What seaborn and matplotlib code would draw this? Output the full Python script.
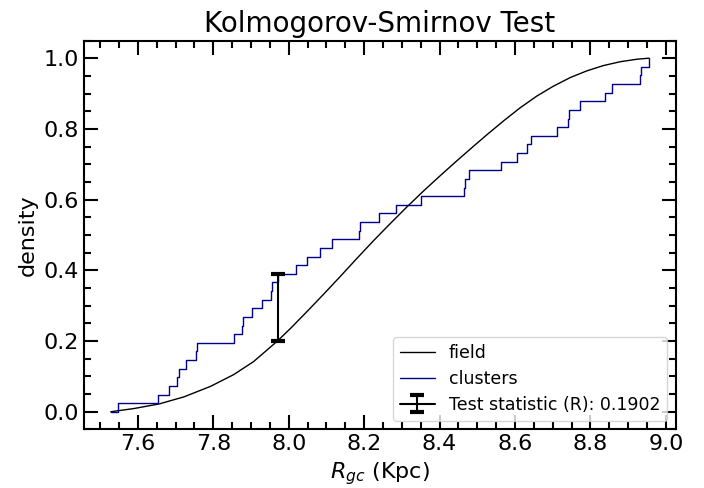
import numpy as np
import pandas as pd
import matplotlib
matplotlib.use("Agg")
import matplotlib.pyplot as plt
import seaborn as sns
from matplotlib.ticker import MultipleLocator

# field CDF
field_r = [7.528, 7.589, 7.656, 7.722, 7.793, 7.854, 7.907, 7.969, 8.005, 8.049,
           8.093, 8.137, 8.181, 8.225, 8.269, 8.314, 8.358, 8.402, 8.446, 8.490,
           8.526, 8.570, 8.614, 8.658, 8.702, 8.746, 8.790, 8.834, 8.879, 8.923, 8.955]
field_cdf = [0.000, 0.009, 0.022, 0.042, 0.072, 0.105, 0.142, 0.199, 0.236, 0.284,
             0.333, 0.383, 0.434, 0.484, 0.532, 0.580, 0.625, 0.668, 0.710, 0.751,
             0.784, 0.823, 0.860, 0.893, 0.921, 0.945, 0.964, 0.979, 0.990, 0.997, 1.000]

# cluster radii (sorted), one per step of the ECDF
clusters_r = [7.529, 7.548, 7.654, 7.683, 7.705, 7.709, 7.727, 7.754, 7.756, 7.854,
              7.876, 7.878, 7.902, 7.930, 7.954, 7.957, 7.971, 8.020, 8.049, 8.083,
              8.115, 8.187, 8.190, 8.240, 8.284, 8.351, 8.464, 8.467, 8.477, 8.563,
              8.606, 8.633, 8.643, 8.711, 8.741, 8.744, 8.771, 8.839, 8.857, 8.932,
              8.935, 8.955]

ks_x = 7.971
ks_lo = 0.2
ks_stat = 0.1902

sns.set_style("ticks", {"axes.edgecolor": "black", "text.color": "black",
                        "axes.labelcolor": "black", "xtick.color": "black",
                        "ytick.color": "black"})
plt.rcParams['font.family'] = ['DejaVu Sans']

clusters = pd.DataFrame({"r": clusters_r})
clusters["cdf"] = np.arange(len(clusters)) / (len(clusters) - 1)
field = pd.DataFrame({"r": field_r, "cdf": field_cdf})

fig, ax = plt.subplots(figsize=(7.04, 4.88), dpi=100)
fig.subplots_adjust(left=0.119, right=0.960, bottom=0.120, top=0.917)

sns.lineplot(data=field, x="r", y="cdf", color="black", linewidth=1, label="field", ax=ax)
sns.lineplot(data=clusters, x="r", y="cdf", color="darkblue", linewidth=1,
             drawstyle="steps-post", label="clusters", ax=ax)
ax.errorbar([ks_x], [ks_lo + ks_stat / 2], yerr=[ks_stat / 2], color="black",
            elinewidth=1.5, capsize=5, capthick=3,
            label="Test statistic (R): %.4f" % ks_stat)

ax.set_title("Kolmogorov-Smirnov Test", fontsize=20)
ax.set_xlabel("$R_{gc}$ (Kpc)", fontsize=16)
ax.set_ylabel("density", fontsize=16)

ax.xaxis.set_major_locator(MultipleLocator(0.2))
ax.xaxis.set_minor_locator(MultipleLocator(0.05))
ax.yaxis.set_major_locator(MultipleLocator(0.2))
ax.yaxis.set_minor_locator(MultipleLocator(0.05))
ax.tick_params(which="both", direction="in", top=True, right=True, width=1.5)
ax.tick_params(which="major", length=10, labelsize=16)
ax.tick_params(which="minor", length=5)
for s in ax.spines.values():
    s.set_linewidth(1.5)

ax.legend(loc="lower right", fontsize=12.5, labelspacing=0.45)

plt.savefig("out.png", dpi=100)
